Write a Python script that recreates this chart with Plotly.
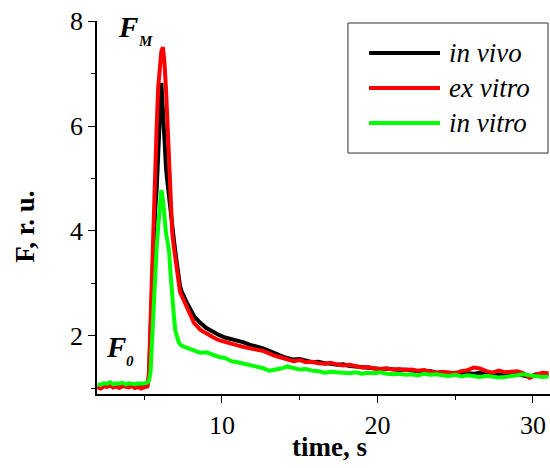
import numpy as np
import plotly.graph_objects as go

# ---- sampling times (s) ----
t_base = np.round(np.arange(2.0, 5.21, 0.2), 2)      # 17 points
t_peak = np.round(np.arange(5.3, 7.51, 0.1), 2)      # 23 points
t_tail = np.round(np.arange(7.8, 31.01, 0.4), 2)     # 59 points
time_s = np.concatenate([t_base, t_peak, t_tail])

# ---- fluorescence, r.u. ----
in_vivo_base = [1.05, 1.04, 1.06, 1.05, 1.07, 1.04, 1.05, 1.06, 1.04, 1.05, 1.07, 1.05, 1.03, 1.04, 1.02, 1.03, 1.06]
ex_vitro_base = [1.02, 1.00, 1.04, 1.03, 1.06, 1.02, 1.04, 1.01, 1.05, 1.03, 1.02, 1.05, 1.01, 1.03, 1.00, 1.02, 1.04]
in_vitro_base = [1.08, 1.07, 1.10, 1.09, 1.12, 1.08, 1.10, 1.09, 1.11, 1.08, 1.10, 1.09, 1.08, 1.10, 1.09, 1.10, 1.11]

in_vivo_peak = [1.20, 2.10, 3.00, 3.80, 4.40, 4.80, 5.40, 6.00, 6.82, 6.30, 5.60, 5.20, 4.90, 4.60,
                4.35, 4.10, 3.85, 3.60, 3.35, 3.10, 2.95, 2.85, 2.78]
ex_vitro_peak = [1.30, 2.33, 3.36, 4.38, 4.90, 6.00, 6.75, 7.15, 7.42, 7.50, 7.20, 6.70, 6.05, 5.25,
                 4.47, 3.96, 3.70, 3.45, 3.20, 2.95, 2.84, 2.77, 2.70]
in_vitro_peak = [1.15, 1.30, 1.90, 2.56, 3.20, 3.70, 4.10, 4.50, 4.78, 4.60, 4.25, 3.95, 3.80, 3.60,
                 3.15, 2.69, 2.40, 2.10, 1.98, 1.90, 1.84, 1.81, 1.80]

in_vivo_tail = [2.60, 2.38, 2.25, 2.15, 2.08, 2.02, 1.97, 1.94, 1.90, 1.88, 1.83, 1.80, 1.77, 1.72, 1.66,
                1.62, 1.58, 1.55, 1.56, 1.52, 1.50, 1.51, 1.48, 1.47, 1.45, 1.46, 1.43, 1.42, 1.41, 1.40,
                1.38, 1.37, 1.38, 1.36, 1.35, 1.36, 1.34, 1.33, 1.31, 1.33, 1.30, 1.31, 1.29, 1.30, 1.28,
                1.29, 1.28, 1.30, 1.27, 1.28, 1.26, 1.27, 1.25, 1.27, 1.24, 1.22, 1.27, 1.26, 1.27]
ex_vitro_tail = [2.52, 2.25, 2.12, 2.04, 1.98, 1.92, 1.88, 1.85, 1.82, 1.79, 1.76, 1.74, 1.72, 1.66, 1.62,
                 1.59, 1.56, 1.52, 1.54, 1.50, 1.51, 1.48, 1.47, 1.49, 1.46, 1.44, 1.45, 1.42, 1.40, 1.41,
                 1.38, 1.37, 1.38, 1.36, 1.37, 1.35, 1.36, 1.34, 1.35, 1.32, 1.30, 1.32, 1.31, 1.29, 1.33,
                 1.35, 1.40, 1.38, 1.33, 1.30, 1.34, 1.31, 1.32, 1.33, 1.29, 1.20, 1.26, 1.30, 1.29]
in_vitro_tail = [1.77, 1.73, 1.68, 1.69, 1.64, 1.60, 1.58, 1.52, 1.50, 1.47, 1.45, 1.42, 1.39, 1.34, 1.36,
                 1.38, 1.42, 1.38, 1.36, 1.37, 1.34, 1.33, 1.30, 1.32, 1.31, 1.30, 1.29, 1.31, 1.28, 1.30,
                 1.29, 1.31, 1.28, 1.27, 1.28, 1.26, 1.27, 1.25, 1.28, 1.26, 1.27, 1.25, 1.24, 1.26, 1.23,
                 1.25, 1.24, 1.22, 1.24, 1.23, 1.21, 1.22, 1.24, 1.26, 1.27, 1.25, 1.23, 1.22, 1.23]

in_vivo = in_vivo_base + in_vivo_peak + in_vivo_tail
ex_vitro = ex_vitro_base + ex_vitro_peak + ex_vitro_tail
in_vitro = in_vitro_base + in_vitro_peak + in_vitro_tail

series_names = ["in vivo", "ex vitro", "in vitro"]
series_colors = ["#000000", "#ff0000", "#00ff00"]
series_values = [in_vivo, ex_vitro, in_vitro]

x_ticks = [10, 20, 30]
y_ticks = [2, 4, 6, 8]

SERIF = "Liberation Serif"

fig = go.Figure()
for name, color, vals in zip(series_names, series_colors, series_values):
    fig.add_trace(go.Scatter(x=time_s, y=vals, mode="lines", name=name,
                             line=dict(color=color, width=4), showlegend=False))

axis_common = dict(showline=True, linecolor="black", linewidth=1.5, mirror=False,
                   showgrid=False, zeroline=False, ticks="outside", ticklen=7,
                   tickwidth=1.2, tickcolor="black",
                   tickfont=dict(family=SERIF, size=26, color="black"))

fig.update_layout(
    width=550, height=468,
    margin=dict(l=97, r=0, t=21, b=74),
    paper_bgcolor="white", plot_bgcolor="white",
    font=dict(family=SERIF, color="black"),
    xaxis=dict(range=[1.96, 31.1], tickvals=x_ticks,
               minor=dict(tickvals=[5, 15, 25], ticklen=4, ticks="outside", tickcolor="black", tickwidth=1.2),
               ticklabeloverflow="allow",
               **axis_common),
    yaxis=dict(range=[0.895, 8.0], tickvals=y_ticks,
               minor=dict(tickvals=[1, 3, 5, 7], ticklen=4, ticks="outside", tickcolor="black", tickwidth=1.2),
               **axis_common),
    showlegend=False,
)

# ---- legend box drawn in paper coordinates ----
fig.add_shape(type="rect", xref="paper", yref="paper", x0=0.554, x1=0.9956, y0=0.646, y1=0.9946,
              line=dict(color="#333333", width=1), fillcolor="white", layer="above")
legend_rows_y = [0.9142, 0.8204, 0.7265]
for name, color, ry in zip(series_names, series_colors, legend_rows_y):
    fig.add_shape(type="line", xref="paper", yref="paper", x0=0.6005, x1=0.7572, y0=ry, y1=ry,
                  line=dict(color=color, width=4), layer="above")
    fig.add_annotation(text="<i>" + name + "</i>", xref="paper", yref="paper", x=0.7726, y=ry,
                       xanchor="left", yanchor="middle", showarrow=False,
                       font=dict(family=SERIF, size=27, color="black"))

# axis titles
fig.add_annotation(text="<b>F, r. u.</b>", textangle=-90, xref="paper", yref="paper",
                   x=-0.159, y=0.448, xanchor="center", yanchor="middle", showarrow=False,
                   font=dict(family=SERIF, size=27, color="black"))
fig.add_annotation(text="<b>time, s</b>", xref="paper", yref="paper",
                   x=0.514, y=-0.142, xanchor="center", yanchor="middle", showarrow=False,
                   font=dict(family=SERIF, size=27, color="black"))

# F_M and F_0 labels (main letter + subscript placed separately)
fig.add_annotation(text="<b><i>F</i></b>", xref="paper", yref="paper", x=0.0695, y=0.984,
                   xanchor="center", yanchor="middle", showarrow=False,
                   font=dict(family=SERIF, size=29, color="black"))
fig.add_annotation(text="<b><i>M</i></b>", xref="paper", yref="paper", x=0.106, y=0.946,
                   xanchor="center", yanchor="middle", showarrow=False,
                   font=dict(family=SERIF, size=15, color="black"))
fig.add_annotation(text="<b><i>F</i></b>", xref="paper", yref="paper", x=0.043, y=0.127,
                   xanchor="center", yanchor="middle", showarrow=False,
                   font=dict(family=SERIF, size=29, color="black"))
fig.add_annotation(text="<b><i>0</i></b>", xref="paper", yref="paper", x=0.0728, y=0.089,
                   xanchor="center", yanchor="middle", showarrow=False,
                   font=dict(family=SERIF, size=15, color="black"))

fig.write_html("out.html", post_script="document.body.style.margin='0';",
               config={"displayModeBar": False})
